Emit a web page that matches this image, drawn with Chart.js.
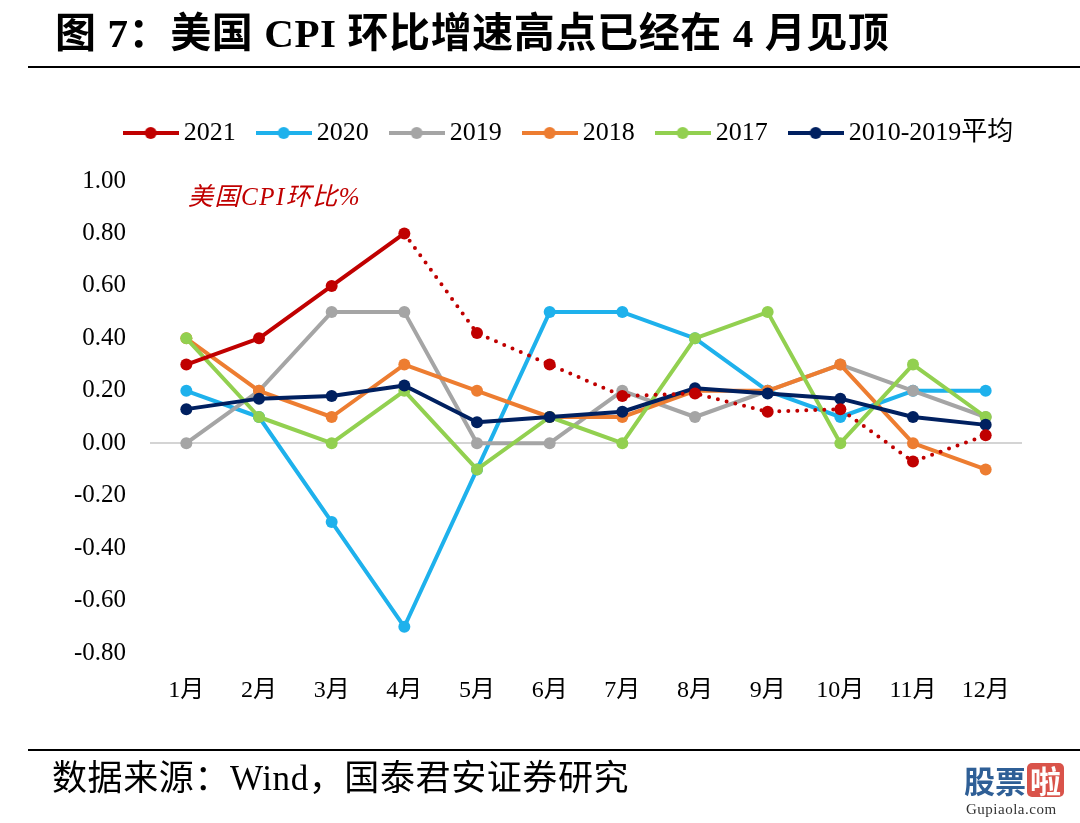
<!DOCTYPE html>
<html><head><meta charset="utf-8">
<script src="https://cdn.jsdelivr.net/npm/chart.js@4.4.1/dist/chart.umd.min.js"></script>
<style>
html,body{margin:0;padding:0;background:#fff;width:1080px;height:823px;overflow:hidden;}
#wrap{position:relative;width:1080px;height:823px;}
#c{position:absolute;left:0;top:0;}
.title{position:absolute;left:55px;top:11px;font:bold 41px "Liberation Serif","Noto Sans CJK SC",serif;letter-spacing:0.6px;white-space:nowrap;color:#000;line-height:44px;}
.rule{position:absolute;left:28px;width:1052px;height:2px;background:#000;}
.note{position:absolute;left:188px;top:176px;font:italic 25px "Liberation Serif","Noto Sans CJK SC",serif;letter-spacing:1.5px;color:#C00000;white-space:nowrap;}
.src{position:absolute;left:52px;top:759px;font:35px "Liberation Serif","Noto Sans CJK SC",serif;letter-spacing:0.6px;white-space:nowrap;color:#000;line-height:40px;}
.logo{position:absolute;left:964px;top:763px;font:bold 31px "Noto Sans CJK SC",sans-serif;color:#2f5f96;white-space:nowrap;line-height:34px;}
.logo .la{display:inline-block;background:#d9534a;color:#fff;border-radius:5px;padding:0 3px;margin-left:1px;}
.dom{position:absolute;left:966px;top:801px;font:15px "Liberation Serif",serif;color:#333;white-space:nowrap;letter-spacing:0.5px;}
</style>
</head><body>
<div id="wrap">
<canvas id="c" width="1080" height="823"></canvas>
<div class="title">图 7：美国 CPI 环比增速高点已经在 4 月见顶</div>
<div class="rule" style="top:66px"></div>
<div class="note">美国CPI环比%</div>
<div class="rule" style="top:749px"></div>
<div class="src">数据来源：Wind，国泰君安证券研究</div>
<div class="logo">股票<span class="la">啦</span></div>
<div class="dom">Gupiaola.com</div>
</div>
<script>
const months = ['1月','2月','3月','4月','5月','6月','7月','8月','9月','10月','11月','12月'];
const seriesNames = ['2021','2020','2019','2018','2017','2010-2019平均'];
const y2021 = [0.30, 0.40, 0.60, 0.80, 0.42, 0.30, 0.18, 0.19, 0.12, 0.13, -0.07, 0.03];
const y2020 = [0.20, 0.10, -0.30, -0.70, -0.10, 0.50, 0.50, 0.40, 0.20, 0.10, 0.20, 0.20];
const y2019 = [0.00, 0.20, 0.50, 0.50, 0.00, 0.00, 0.20, 0.10, 0.20, 0.30, 0.20, 0.10];
const y2018 = [0.40, 0.20, 0.10, 0.30, 0.20, 0.10, 0.10, 0.20, 0.20, 0.30, 0.00, -0.10];
const y2017 = [0.40, 0.10, 0.00, 0.20, -0.10, 0.10, 0.00, 0.40, 0.50, 0.00, 0.30, 0.10];
const yAvg  = [0.13, 0.17, 0.18, 0.22, 0.08, 0.10, 0.12, 0.21, 0.19, 0.17, 0.10, 0.07];
const yMin = -0.8, yMax = 1.0, yStep = 0.2;

const colors = ['#C00000','#1EB1EC','#A5A5A5','#ED7D31','#92D050','#002060'];
const drawOrder = [0, 5, 4, 3, 2, 1];
const values = [y2021, y2020, y2019, y2018, y2017, yAvg];

function icon(color){
  const c = document.createElement('canvas');
  c.width = 56; c.height = 14;
  const g = c.getContext('2d');
  g.strokeStyle = color; g.lineWidth = 4;
  g.beginPath(); g.moveTo(0,7); g.lineTo(56,7); g.stroke();
  g.fillStyle = color; g.beginPath(); g.arc(28,7,6,0,Math.PI*2); g.fill();
  return c;
}
const icons = colors.map(icon);

const datasets = seriesNames.map((name, i) => {
  const d = {
    label: name, data: values[i],
    borderColor: colors[i], backgroundColor: colors[i],
    pointBackgroundColor: colors[i], pointBorderColor: colors[i],
    pointBorderWidth: 0, pointRadius: 6, pointHoverRadius: 6,
    borderWidth: 4, tension: 0, order: drawOrder[i], clip: false,
    borderJoinStyle: 'round'
  };
  if (i === 0) {
    d.segment = {
      borderDash: ctx => ctx.p0DataIndex >= 3 ? [0, 9] : undefined,
      borderCapStyle: ctx => ctx.p0DataIndex >= 3 ? 'round' : undefined,
      borderWidth: ctx => ctx.p0DataIndex >= 3 ? 4 : undefined
    };
  }
  return d;
});

const legendMargin = {
  id: 'legendMargin',
  beforeLayout(chart) {
    const lg = chart.legend;
    if (lg && !lg._patched) {
      const orig = lg.fit;
      lg.fit = function() {
        this.maxWidth = 1080;
        orig.call(this);
        this.height += 25;
      };
      lg._patched = true;
    }
  },
  afterLayout(chart) {
    const lg = chart.legend;
    if (lg) { lg.left = 92; lg.right = 1052; lg.width = 960; }
  }
};

const fontFam = '"Liberation Serif","Noto Sans CJK SC",serif';

new Chart(document.getElementById('c'), {
  type: 'line',
  data: { labels: months, datasets },
  plugins: [legendMargin],
  options: {
    responsive: false, animation: false, devicePixelRatio: 1,
    layout: { padding: { top: 92, left: 72, right: 58, bottom: 110 } },
    plugins: {
      tooltip: { enabled: false },
      title: { display: false },
      legend: {
        display: true, position: 'top', align: 'center',
        labels: {
          usePointStyle: true, pointStyleWidth: 40, padding: 28,
          color: '#000',
          font: { family: fontFam, size: 26 },
          sort: (a, b) => a.datasetIndex - b.datasetIndex,
          generateLabels: chart => Chart.defaults.plugins.legend.labels.generateLabels(chart)
            .map(l => Object.assign(l, { pointStyle: icons[l.datasetIndex] }))
        }
      }
    },
    scales: {
      x: {
        type: 'category', offset: true,
        grid: { display: false, drawTicks: false },
        border: { display: false },
        ticks: { color: '#000', font: { family: fontFam, size: 24 }, padding: 23, maxRotation: 0, autoSkip: false },
        afterFit: s => { s.height = 60; }
      },
      y: {
        min: yMin, max: yMax,
        grid: {
          drawTicks: false,
          color: c => Math.abs(c.tick.value) < 1e-9 ? '#d4d4d4' : 'rgba(0,0,0,0)',
          lineWidth: 2
        },
        border: { display: false },
        ticks: { stepSize: yStep, color: '#000', font: { family: fontFam, size: 25 }, padding: 24,
                 callback: v => Number(v).toFixed(2) },
        afterFit: s => { s.width = 78; }
      }
    }
  }
});
</script>
</body></html>
